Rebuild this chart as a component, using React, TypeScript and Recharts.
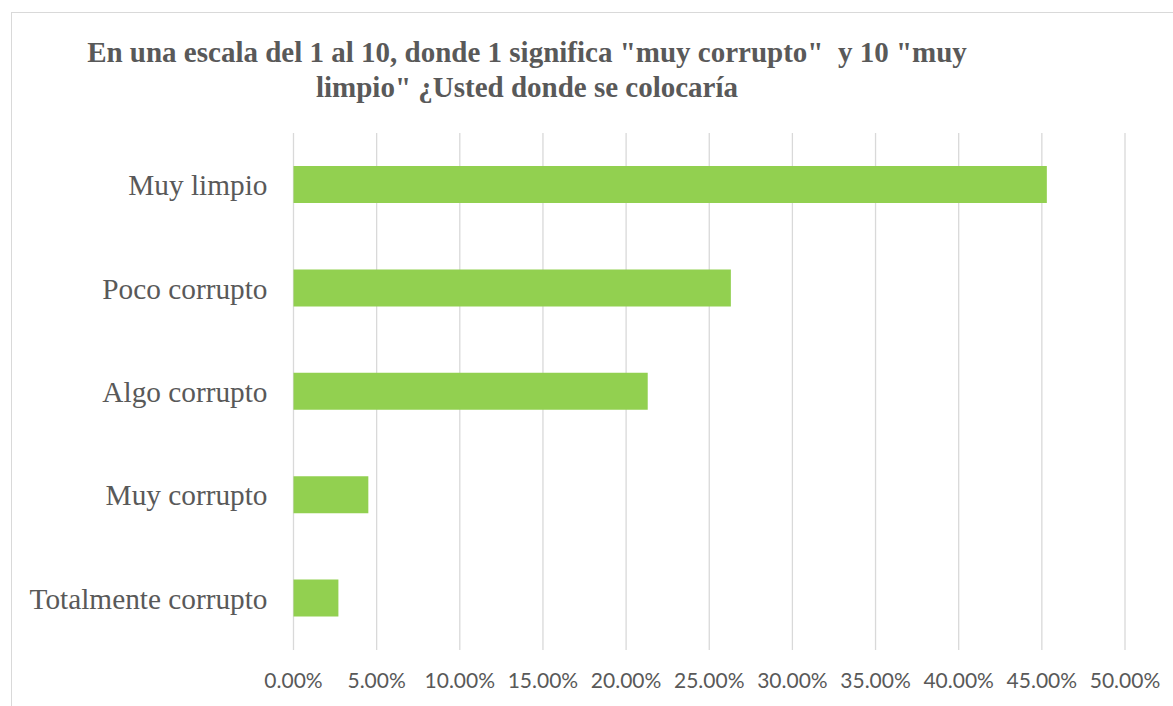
import { BarChart, Bar, XAxis, YAxis, CartesianGrid } from "recharts";

const categories = [
  "Muy limpio",
  "Poco corrupto",
  "Algo corrupto",
  "Muy corrupto",
  "Totalmente corrupto",
];
const shares = [45.3, 26.3, 21.3, 4.5, 2.7];
const xTicks = [0, 5, 10, 15, 20, 25, 30, 35, 40, 45, 50];
const titleLines = [
  'En una escala del 1 al 10, donde 1 significa "muy corrupto"  y 10 "muy',
  'limpio" ¿Usted donde se colocaría',
];

const data = categories.map((name, i) => ({ name, value: shares[i] }));

const grey = "#595959";

export default function App() {
  return (
    <div
      style={{
        position: "absolute",
        left: 0,
        top: 0,
        width: 1173,
        height: 706,
        overflow: "hidden",
        background: "#fff",
      }}
    >
      <div
        style={{
          position: "absolute",
          left: 11,
          top: 12,
          width: 1300,
          height: 900,
          border: "1px solid #d9d9d9",
        }}
      />
      <div
        style={{
          position: "absolute",
          left: 0,
          top: 35,
          width: 1054,
          textAlign: "center",
          fontFamily: "'Liberation Serif', serif",
          fontWeight: "bold",
          fontSize: 29,
          lineHeight: "35px",
          color: grey,
          whiteSpace: "pre",
        }}
      >
        {titleLines.map((l) => (
          <div key={l}>{l}</div>
        ))}
      </div>
      <div style={{ position: "absolute", left: 0, top: 0 }}>
        <BarChart
          width={1173}
          height={706}
          data={data}
          layout="vertical"
          margin={{ top: 133, right: 48, bottom: 26, left: 0 }}
        >
          <CartesianGrid horizontal={false} stroke="#d9d9d9" strokeWidth={1.3} />
          <XAxis
            type="number"
            domain={[0, 50]}
            ticks={xTicks}
            height={30}
            axisLine={false}
            tickLine={false}
            tickMargin={17}
            interval={0}
            tickFormatter={(v: number) => v.toFixed(2) + "%"}
            tick={{ fontSize: 21, fill: grey, fontFamily: "Lato" }}
          />
          <YAxis
            type="category"
            dataKey="name"
            width={293.5}
            axisLine={false}
            tickLine={false}
            tickMargin={20}
            tick={{ fontSize: 29.3, fill: grey, fontFamily: "'Liberation Serif'" }}
          />
          <Bar dataKey="value" fill="#92D050" barSize={37} isAnimationActive={false} />
        </BarChart>
      </div>
    </div>
  );
}
